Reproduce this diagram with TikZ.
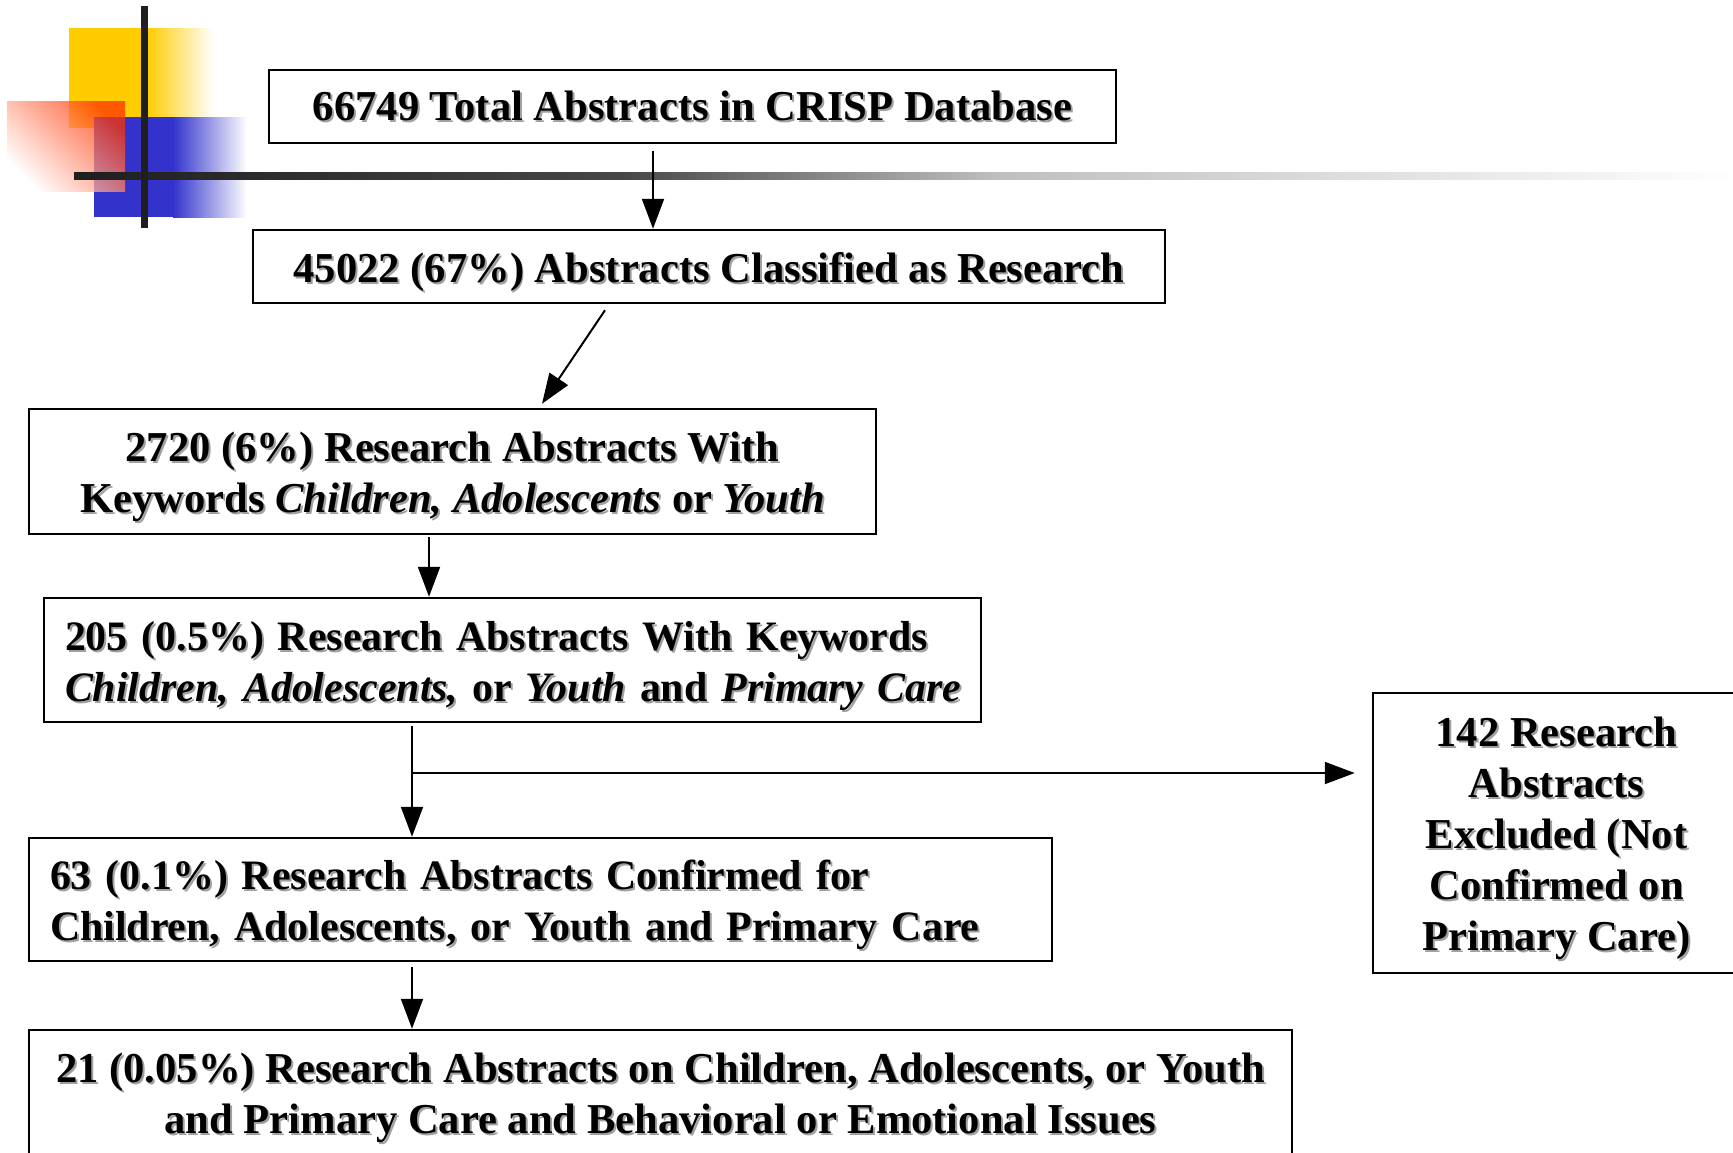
\documentclass[tikz,border=0pt]{standalone}
\usepackage{fontspec}
\setmainfont{Liberation Serif}
\usetikzlibrary{arrows.meta,calc}
\definecolor{myyellow}{HTML}{FFCC00}
\definecolor{myblue}{HTML}{3333CC}
\definecolor{myred}{HTML}{FF3300}
\definecolor{shadowgray}{HTML}{A0A0A0}
\newcommand\shbase[1]{\mbox{\rlap{\hspace{2pt}\raisebox{-2pt}{\color{shadowgray}#1}}#1}}
\newcommand\shtxt[1]{\raisebox{-6.5pt}[\height][\depth]{\shbase{#1}}}
\begin{document}
\begin{tikzpicture}[x=1pt,y=-1pt,
  flowbox/.style={draw=black, line width=2.5pt, inner sep=0pt, fill=white,
    font=\fontsize{42.6}{51}\selectfont\bfseries},
  smallfont/.style={font=\fontsize{41.9}{51}\selectfont\bfseries},
  ctr/.style={align=center},
  lft/.style={align=left},
  arr/.style={line width=2pt, -{Triangle[length=30pt,width=22pt]}}]
\useasboundingbox (0,0) rectangle (1733,1152);
% decoration
\fill[myyellow] (69,28) rectangle (147,128);
\shade[left color=myyellow, right color=white] (147,28) rectangle (213,128);
\fill[myblue] (94,117) rectangle (173,217);
\shade[left color=myblue, right color=white] (173,117) rectangle (247,217);
\shade[bottom color=white, top color=myred, shading angle=-45, opacity=0.75] (7,101) rectangle (125,191);
\shade[left color=black!88, right color=black!72] (74,172) rectangle (620,179);
\shade[left color=black!72, right color=black!25] (620,172) rectangle (1000,179);
\shade[left color=black!25, right color=white] (1000,172) rectangle (1733,179);
\fill[black!88] (141,6) rectangle (148,228);
% boxes
\node[flowbox, ctr, minimum width=847pt, minimum height=73pt] (B1) at (692.5,106.5)
  {\shbase{66749 Total Abstracts in CRISP Database}};
\node[flowbox, ctr, minimum width=912pt, minimum height=73pt] (B2) at (709,266.5)
  {\shtxt{45022 (67\%) Abstracts Classified as Research}};
\node[flowbox, ctr, minimum width=847pt, minimum height=125pt] (B3) at (452.5,471.5)
  {\shtxt{2720 (6\%) Research Abstracts With}\\
   \shtxt{Keywords \textit{Children, Adolescents} or \textit{Youth}}};
\node[flowbox, smallfont, lft, text width=895pt, minimum width=937pt, minimum height=124pt] (B4) at (512.5,660)
  {\shtxt{205 (0.5\%) Research Abstracts With Keywords}\\
   \shtxt{\textit{Children, Adolescents,} or \textit{Youth} and \textit{Primary Care}}};
\node[flowbox, smallfont, lft, text width=981pt, minimum width=1023pt, minimum height=123pt] (B5) at (540.5,899.5)
  {\shtxt{63 (0.1\%) Research Abstracts Confirmed for}\\
   \shtxt{Children, Adolescents, or Youth and Primary Care}};
\node[flowbox, ctr, minimum width=367pt, minimum height=280pt] (B6) at (1556.5,833)
  {\shtxt{142 Research}\\ \shtxt{Abstracts}\\ \shtxt{Excluded (Not}\\
   \shtxt{Confirmed on}\\ \shtxt{Primary Care)}};
\node[flowbox, ctr, minimum width=1263pt, minimum height=125pt] (B7) at (660.5,1092.5)
  {\shtxt{21 (0.05\%) Research Abstracts on Children, Adolescents, or Youth}\\
   \shtxt{and Primary Care and Behavioral or Emotional Issues}};
% connectors
\coordinate (x1) at (653,0);
\coordinate (x3) at (429,0);
\coordinate (x4) at (412,0);
\coordinate (br) at (412,773);
\draw[arr] ($(B1.south -| x1)+(0,7)$) -- (B2.north -| x1);
\draw[arr] ($(B2.south)+(-104,6)$) -- ($(B3.north)+(89.5,-4)$);
\draw[arr] ($(B3.south -| x3)+(0,2)$) -- (B4.north -| x3);
\draw[arr] ($(B4.south -| x4)+(0,3)$) -- (B5.north -| x4);
\draw[arr] (br) -- ($(B6.west |- br)+(-17,0)$);
\draw[arr] ($(B5.south -| x4)+(0,5)$) -- (B7.north -| x4);
\end{tikzpicture}
\end{document}
